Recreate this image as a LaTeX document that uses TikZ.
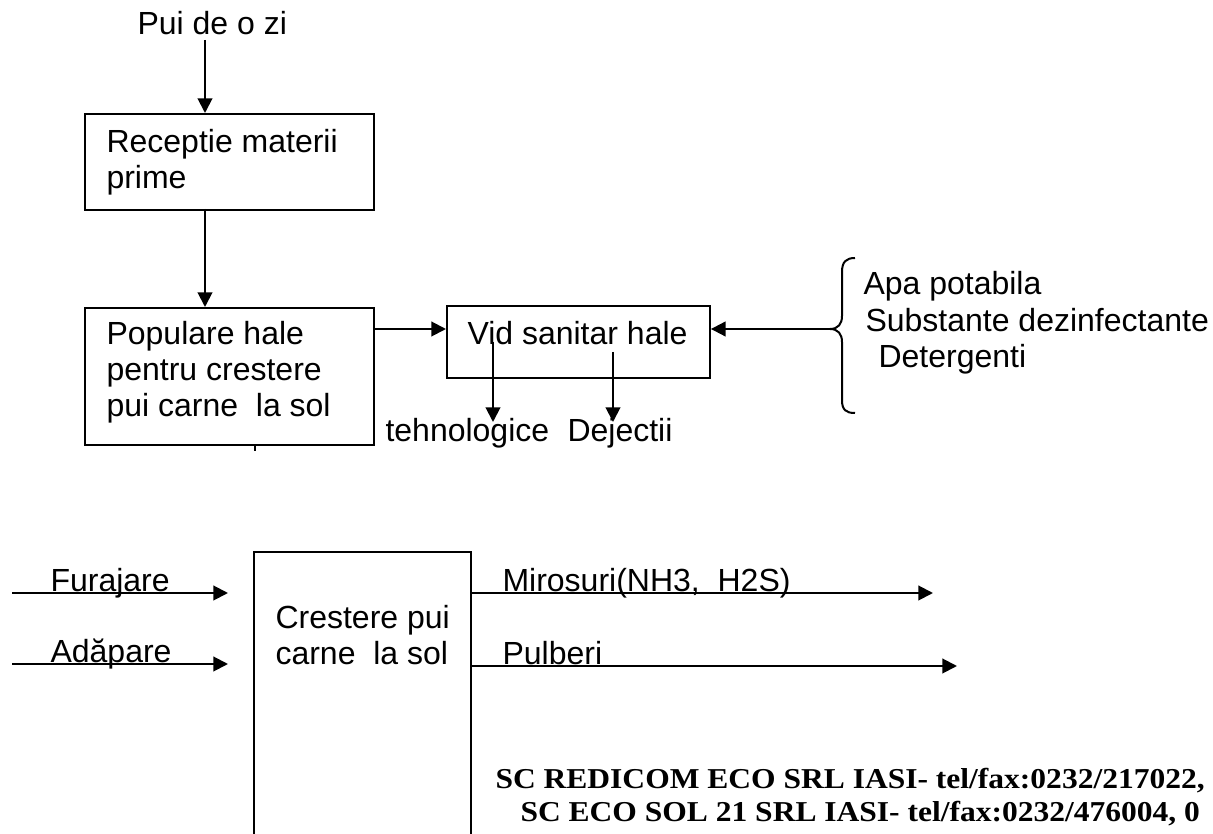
\documentclass[tikz,border=0pt]{standalone}
\usepackage{fontspec}
\setmainfont{Liberation Sans}
\newfontfamily\serifbold{Liberation Serif}
\usepackage{graphicx}
\usetikzlibrary{arrows.meta}

\begin{document}
\begin{tikzpicture}[
    x=0.375pt, y=-0.375pt,
    % Process box style
    box/.style={
        rectangle,
        draw=black,
        line width=0.75pt,
        anchor=north west,
        inner sep=0pt
    },
    % Text style (multi-line texts sit on their last baseline)
    txt/.style={
        font=\fontsize{12}{13.5}\selectfont,
        inner sep=0pt,
        anchor=base west,
        align=left
    },
    % Arrow style
    arrow/.style={
        -{Triangle[length=5.5pt, width=5.5pt]},
        line width=0.75pt
    },
    % Plain line style
    plain/.style={
        line width=0.75pt
    },
    % Footer style
    footer/.style={
        font=\serifbold\bfseries\fontsize{12}{13.5}\selectfont,
        inner sep=0pt,
        anchor=base west
    }
]

\clip (0,0) rectangle (1213,834);

% === Upper chain ===
\node[txt] (pui) at (137,35) {Pui de o zi};
\node[box, minimum width=108.4pt, minimum height=36pt] (recep) at (84,113) {};
\node[txt] (receptxt) at (106,189) {Receptie materii\\prime};
\node[box, minimum width=108.4pt, minimum height=51.4pt] (popul) at (84,307) {};
\node[txt] (popultxt) at (106,417) {Populare hale\\pentru crestere\\pui carne\ \ la sol};

\coordinate (puiout) at (205,40);
\coordinate (recepout) at (205,209);
\draw[arrow] (puiout) -- (puiout |- recep.north);
\draw[arrow] (recepout) -- (recepout |- popul.north);
\draw[plain] (popul.south -| 255,0) -- ++(0,5);

% === Sanitary break ===
\node[box, minimum width=98.6pt, minimum height=27pt] (vid) at (446,305) {};
\node[txt] (vidtxt) at (467,345) {Vid sanitar hale};
\coordinate (popout) at (373,329);
\draw[arrow] (popout) -- (popout -| vid.west);

\node[txt] (tehn) at (385,442) {tehnologice};
\node[txt] (dej) at (567,442) {Dejectii};
\coordinate (tehnout) at (493,342);
\coordinate (dejout) at (613,352);
\draw[arrow] (tehnout) -- (493,422);
\draw[arrow] (dejout) -- (613,422);

% === Inputs brace ===
\coordinate (brace) at (830,329);
\draw[plain] (855,258) .. controls (846,258) and (842,262) .. (842,272)
    -- (842,316) .. controls (842,324) and (838,329) .. (brace)
    .. controls (838,329) and (842,334) .. (842,342)
    -- (842,400) .. controls (842,410) and (846,413) .. (855,413);
\draw[arrow] (brace) -- (brace -| vid.east);
\node[txt] (apa) at (863,295) {Apa potabila};
\node[txt] (subst) at (865,332) {Substante dezinfectante};
\node[txt] (deterg) at (878,368) {Detergenti};

% === Growing ===
\node[box, minimum width=81.4pt, minimum height=120pt] (crest) at (253,551) {};
\node[txt] (cresttxt) at (275,665) {Crestere pui\\carne\ \ la sol};

\node[txt] (fur) at (50,592) {Furajare};
\node[txt] (adap) at (50,663) {Adăpare};
\coordinate (furin) at (12,593);
\coordinate (adapin) at (12,664);
\draw[arrow] (furin) -- (228,593);
\draw[arrow] (adapin) -- (228,664);

\node[txt] (miros) at (502,592) {Mirosuri(NH3,\ \ H2S)};
\node[txt] (pulb) at (502,665) {Pulberi};
\draw[arrow] (crest.east |- furin) -- (933,593);
\draw[arrow] (crest.east |- 0,666) -- (957,666);

% === Footer ===
\node[footer] (firm1) at (495,789) {\scalebox{0.985}[0.9]{SC REDICOM ECO SRL IASI- tel/fax:0232/217022,}};
\node[footer] (firm2) at (520,822) {\scalebox{0.985}[0.9]{SC ECO SOL 21 SRL IASI- tel/fax:0232/476004, 0}};

\end{tikzpicture}
\end{document}
